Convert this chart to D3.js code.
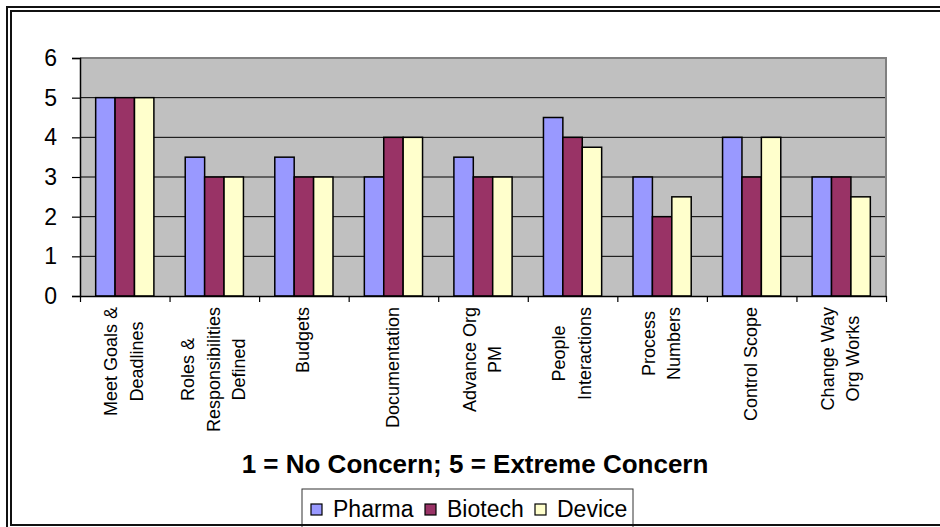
<!DOCTYPE html>
<html>
<head>
<meta charset="utf-8">
<script src="https://cdn.jsdelivr.net/npm/d3@7"></script>
<style>
  html, body { margin: 0; padding: 0; background: #fff; }
  svg { display: block; font-family: Arial, "Liberation Sans", sans-serif; }
</style>
</head>
<body>
<svg id="chart" width="940" height="527"></svg>
<script>
// Survey categories (line breaks mark how each label wraps)
const categories = [
  "Meet Goals &\nDeadlines",
  "Roles &\nResponsibilities\nDefined",
  "Budgets",
  "Documentation",
  "Advance Org\nPM",
  "People\nInteractions",
  "Process\nNumbers",
  "Control Scope",
  "Change Way\nOrg Works"
];
const seriesNames = ["Pharma", "Biotech", "Device"];
const pharma  = [5, 3.5, 3.5, 3, 3.5, 4.5, 3, 4, 3];
const biotech = [5, 3,   3,   4, 3,   4,   2, 3, 3];
const device  = [5, 3,   3,   4, 3,   3.75, 2.5, 4, 2.5];
const yTicks = [0, 1, 2, 3, 4, 5, 6];
const subtitle = "1 = No Concern; 5 = Extreme Concern";

const seriesValues = [pharma, biotech, device];
const colors = ["#9999FF", "#993366", "#FFFFCC"];

const svg = d3.select("#chart");

// Double outer frame
svg.append("rect").attr("x", 7).attr("y", 7).attr("width", 1000).attr("height", 600)
  .attr("fill", "none").attr("stroke", "#111").attr("stroke-width", 2);
svg.append("rect").attr("x", 11).attr("y", 11).attr("width", 1000).attr("height", 514)
  .attr("fill", "#fff").attr("stroke", "#111").attr("stroke-width", 2);

const plot = { left: 80, right: 886, top: 58, bottom: 296 };

const x0 = d3.scaleBand().domain(d3.range(categories.length))
  .range([plot.left, plot.right]).paddingInner(0.35).paddingOuter(0.175);
const x1 = d3.scaleBand().domain(d3.range(seriesNames.length))
  .range([0, x0.bandwidth()]);
const y = d3.scaleLinear().domain([0, 6]).range([plot.bottom, plot.top]);

// Plot background
svg.append("rect")
  .attr("x", plot.left).attr("y", plot.top)
  .attr("width", plot.right - plot.left).attr("height", plot.bottom - plot.top)
  .attr("fill", "#C0C0C0");

// Horizontal gridlines
svg.append("g").selectAll("line").data(yTicks.filter(t => t > 0 && t < 6)).join("line")
  .attr("x1", plot.left).attr("x2", plot.right)
  .attr("y1", d => y(d)).attr("y2", d => y(d))
  .attr("stroke", "#000").attr("stroke-width", 1);

// Plot area border (top and right)
svg.append("path")
  .attr("d", `M${plot.left},${plot.top}H${plot.right}V${plot.bottom}`)
  .attr("fill", "none").attr("stroke", "#808080").attr("stroke-width", 2);

// Bars
const groups = svg.append("g").selectAll("g").data(categories).join("g")
  .attr("transform", (d, i) => `translate(${x0(i)},0)`);
groups.selectAll("rect")
  .data((d, i) => seriesValues.map((vals, s) => ({ s, v: vals[i] })))
  .join("rect")
  .attr("x", d => x1(d.s))
  .attr("y", d => y(d.v))
  .attr("width", x1.bandwidth())
  .attr("height", d => y(0) - y(d.v))
  .attr("fill", d => colors[d.s])
  .attr("stroke", "#000").attr("stroke-width", 1.5);

// Y axis
const yAxis = svg.append("g").attr("transform", `translate(${plot.left},0)`)
  .call(d3.axisLeft(y).tickValues(yTicks).tickSize(8).tickPadding(15).tickFormat(d3.format("d")));
yAxis.select(".domain").attr("stroke", "#000").attr("stroke-width", 1.5);
yAxis.selectAll(".tick line").attr("stroke", "#000").attr("stroke-width", 1.2);
yAxis.selectAll("text").attr("font-size", 23).attr("fill", "#000")
  .attr("font-family", "Arial, 'Liberation Sans', sans-serif");

// X axis line and boundary ticks
const xb = d3.scaleLinear().domain([0, categories.length]).range([plot.left, plot.right]);
const xAxis = svg.append("g").attr("transform", `translate(0,${plot.bottom})`)
  .call(d3.axisBottom(xb).tickValues(d3.range(categories.length + 1)).tickSize(6).tickSizeOuter(0).tickFormat(""));
xAxis.select(".domain").attr("stroke", "#000").attr("stroke-width", 1.5);
xAxis.selectAll(".tick line").attr("stroke", "#000").attr("stroke-width", 1.2);

// Rotated category labels: longest line hangs from the axis, lines centred
const lineGap = 25.5;
const labelTop = 307;
categories.forEach((cat, i) => {
  const lines = cat.split("\n");
  const cx = x0(i) + x0.bandwidth() / 2;
  const g = svg.append("g");
  const texts = lines.map((ln, j) => g.append("text")
    .attr("font-size", 18).attr("fill", "#000")
    .attr("text-anchor", "middle")
    .attr("dy", "0.35em")
    .text(ln));
  const maxLen = d3.max(texts, t => t.node().getComputedTextLength());
  texts.forEach((t, j) => {
    const off = (j - (lines.length - 1) / 2) * lineGap;
    t.attr("transform", `translate(${cx + off - 1},${labelTop + maxLen / 2}) rotate(-90)`);
  });
});

// Scale note
svg.append("text")
  .attr("x", 475).attr("y", 473)
  .attr("text-anchor", "middle")
  .attr("font-size", 26).attr("font-weight", "bold").attr("fill", "#000")
  .text(subtitle);

// Legend
const legend = svg.append("g");
legend.append("rect").attr("x", 302).attr("y", 489).attr("width", 331).attr("height", 50)
  .attr("fill", "#fff").attr("stroke", "#333").attr("stroke-width", 1);
const legendX = [311, 425, 535];
seriesNames.forEach((name, s) => {
  legend.append("rect").attr("x", legendX[s]).attr("y", 504).attr("width", 11).attr("height", 11)
    .attr("fill", colors[s]).attr("stroke", "#000").attr("stroke-width", 1.2);
  legend.append("text").attr("x", legendX[s] + 22).attr("y", 517)
    .attr("font-size", 23).attr("fill", "#000").text(name);
});

// Bottom edge of the inner frame, drawn over the legend box
svg.append("line").attr("x1", 11).attr("x2", 940).attr("y1", 525).attr("y2", 525)
  .attr("stroke", "#111").attr("stroke-width", 2);
</script>
</body>
</html>
